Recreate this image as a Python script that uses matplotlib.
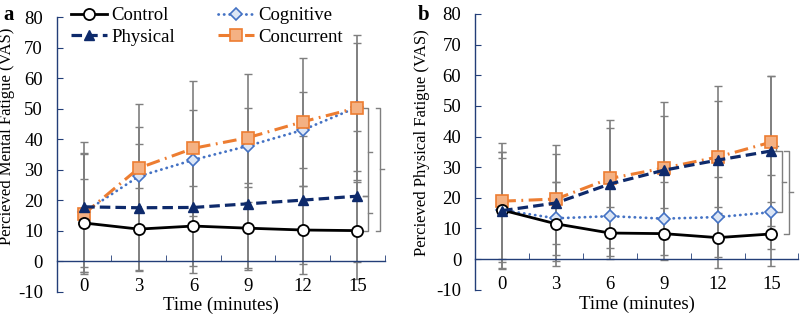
import numpy as np
import matplotlib
matplotlib.use("Agg")
import matplotlib.pyplot as plt

plt.rcParams['font.family'] = ['Liberation Serif', 'DejaVu Serif']
plt.rcParams['axes.unicode_minus'] = False

# time points (minutes)
times = [0, 3, 6, 9, 12, 15]

# panel a: perceived mental fatigue (mean, SD)
mental_control = [12.5, 10.5, 11.5, 10.8, 10.2, 10.0]
mental_physical = [17.8, 17.5, 17.6, 18.8, 20.0, 21.3]
mental_cognitive = [16.0, 27.8, 33.2, 37.8, 43.0, 50.5]
mental_concurrent = [15.5, 30.5, 37.0, 40.5, 45.7, 50.3]
mental_control_sd = [14.4, 13.5, 13.1, 13.6, 14.5, 16.0]
mental_physical_sd = [21.3, 20.9, 21.5, 21.0, 21.0, 21.5]
mental_cognitive_sd = [19.5, 16.3, 16.3, 12.3, 12.3, 21.0]
mental_concurrent_sd = [19.6, 21.1, 22.1, 21.0, 21.0, 23.7]

# panel b: perceived physical fatigue (mean, SD)
physical_control = [16.0, 11.5, 8.5, 8.3, 7.0, 8.2]
physical_physical = [15.8, 18.3, 24.5, 29.0, 32.3, 35.3]
physical_cognitive = [16.0, 13.3, 14.0, 13.2, 13.7, 15.3]
physical_concurrent = [18.9, 19.6, 26.3, 29.7, 33.3, 38.2]
physical_control_sd = [19.0, 13.8, 8.6, 8.5, 10.0, 10.5]
physical_physical_sd = [19.0, 18.8, 20.9, 22.4, 24.3, 24.6]
physical_cognitive_sd = [17.0, 12.0, 13.0, 12.0, 13.0, 12.0]
physical_concurrent_sd = [19.0, 14.6, 16.4, 17.1, 18.4, 21.7]

NAVY = '#233E78'
GRAY = '#7F7F7F'

styles = {
    'Control': dict(color='black', lw=2.0, ls='-', marker='o', ms=8,
                    mfc='white', mec='black', mew=1.3, zorder=5),
    'Physical': dict(color='#0E2A6B', lw=2.3, ls=(0, (3.3, 1.6)), marker='^',
                     ms=7.5, mfc='#0E2A6B', mec='#0E2A6B', zorder=6),
    'Cognitive': dict(color='#4472C4', lw=2.0, ls=(0, (0.1, 1.9)),
                      dash_capstyle='round', marker='D', ms=6,
                      mfc='#DCE6F5', mec='#4472C4', mew=1.2, zorder=3),
    'Concurrent': dict(color='#ED7D31', lw=2.2, ls=(0, (4.5, 1.8, 0.6, 1.8)),
                       marker='s', ms=8, mfc='#F4B183', mec='#ED7D31',
                       mew=1.2, zorder=4),
}


def bracket(ax, x, y1, y2, arm=0.09):
    kw = dict(color=GRAY, lw=1.0, clip_on=False, zorder=2)
    ax.plot([x - arm, x, x, x - arm], [y1, y1, y2, y2], **kw)
    ym = (y1 + y2) / 2
    ax.plot([x, x + arm * 0.7], [ym, ym], **kw)


def draw_panel(ax, series, sds, ylabel):
    x = np.arange(len(times))
    for name in ['Control', 'Physical', 'Cognitive', 'Concurrent']:
        ax.errorbar(x, series[name], yerr=sds[name], fmt='none', ecolor=GRAY,
                    elinewidth=1.2, capsize=2.8, capthick=1.0, zorder=1)
    for name in ['Control', 'Physical', 'Cognitive', 'Concurrent']:
        ax.plot(x, series[name], label=name, **styles[name])

    ax.set_xlim(-0.5, 5.5)
    ax.set_ylim(-10, 80)
    ax.set_yticks(range(-10, 81, 10))
    ax.set_xticks(x)
    ax.set_xticklabels([str(t) for t in times])
    ax.set_xticks(np.arange(-0.5, 5.6, 1), minor=True)

    for side in ['top', 'right']:
        ax.spines[side].set_visible(False)
    ax.spines['bottom'].set_position(('data', 0))
    ax.spines['bottom'].set_color(NAVY)
    ax.spines['left'].set_color(NAVY)
    ax.spines['bottom'].set_linewidth(1.0)
    ax.spines['left'].set_linewidth(1.0)

    ax.tick_params(axis='y', direction='in', length=4, color=NAVY,
                   labelsize=13.5, pad=10)
    ax.tick_params(axis='x', which='major', length=0, labelsize=13.5, pad=12)
    ax.tick_params(axis='x', which='minor', direction='in', length=4,
                   color=NAVY)

    ax.set_xlabel('Time (minutes)', fontsize=13.5)
    ax.xaxis.set_label_coords(0.5, -0.02)
    ax.set_ylabel(ylabel, fontsize=12)


fig = plt.figure(figsize=(8, 3.18), dpi=100)
ax1 = fig.add_axes([0.071, 0.083, 0.41, 0.863])
ax2 = fig.add_axes([0.594, 0.089, 0.404, 0.867])

mental = {'Control': mental_control, 'Physical': mental_physical,
          'Cognitive': mental_cognitive, 'Concurrent': mental_concurrent}
mental_sd = {'Control': mental_control_sd, 'Physical': mental_physical_sd,
             'Cognitive': mental_cognitive_sd, 'Concurrent': mental_concurrent_sd}
phys = {'Control': physical_control, 'Physical': physical_physical,
        'Cognitive': physical_cognitive, 'Concurrent': physical_concurrent}
phys_sd = {'Control': physical_control_sd, 'Physical': physical_physical_sd,
           'Cognitive': physical_cognitive_sd, 'Concurrent': physical_concurrent_sd}

draw_panel(ax1, mental, mental_sd, 'Percieved Mental Fatigue (VAS)')
draw_panel(ax2, phys, phys_sd, 'Percieved Physical Fatigue (VAS)')
ax1.yaxis.set_label_coords(-0.128, 0.565)
ax2.yaxis.set_label_coords(-0.139, 0.534)

# significance brackets at 15 min
bracket(ax1, 5.20, mental_concurrent[-1], mental_physical[-1])
bracket(ax1, 5.20, mental_physical[-1], mental_control[-1])
bracket(ax1, 5.42, mental_concurrent[-1], mental_control[-1])
bracket(ax2, 5.09, physical_concurrent[-1], physical_physical[-1], arm=0.05)
bracket(ax2, 5.20, physical_physical[-1], physical_cognitive[-1])
bracket(ax2, 5.33, physical_physical[-1], physical_control[-1])

handles, labels = ax1.get_legend_handles_labels()
ax1.legend(handles, labels, ncol=2, loc='upper left',
           bbox_to_anchor=(0.089, 0.978), bbox_transform=fig.transFigure,
           frameon=False, fontsize=13.5, handlelength=1.9,
           handletextpad=0.25, columnspacing=2.3, labelspacing=0.25,
           borderpad=0, borderaxespad=0, numpoints=1)

fig.text(0.004, 0.985, 'a', fontsize=15, fontweight='bold', va='top')
fig.text(0.522, 0.985, 'b', fontsize=15, fontweight='bold', va='top')

fig.savefig('out.png', dpi=100)
